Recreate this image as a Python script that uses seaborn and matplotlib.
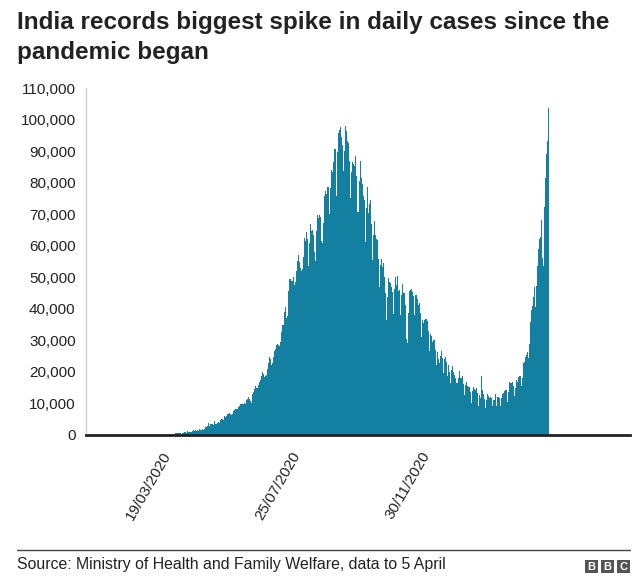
import matplotlib
matplotlib.use("Agg")
import matplotlib.pyplot as plt
from matplotlib.patches import Rectangle
from matplotlib.lines import Line2D
from matplotlib.ticker import FuncFormatter
import seaborn as sns
import pandas as pd

# ---- data: daily new cases (by report day), 31/01/2020 .. 05/04/2021 ----
jan_2020 = [1, 0]
feb_2020 = [0, 1, 1, 0, 0, 0, 0, 0, 0, 0, 0, 0, 0, 0, 0, 0, 0, 0, 0, 0,
            0, 0, 0, 0, 0, 0, 0, 0, 0]
mar_2020 = [0, 2, 1, 22, 2, 1, 3, 5, 9, 15, 8, 11, 9, 20, 11, 6, 23, 14, 38, 50,
            86, 66, 103, 37, 121, 70, 160, 100, 112, 227, 146]
apr_2020 = [601, 545, 624, 524, 597, 596, 473, 678, 512, 1035, 856, 758, 1243, 1031, 886,
            1061, 922, 1371, 1580, 1239, 1537, 1292, 1667, 1408, 1835, 1607, 1561, 1873, 1738, 1801]
may_2020 = [2396, 2564, 2952, 3656, 2971, 3602, 3344, 3339, 3175, 4311, 3592, 3562, 3726, 3991,
            3808, 4794, 5050, 4628, 6147, 5553, 6088, 6654, 6767, 6977, 6535, 6387, 6566, 7466,
            7964, 8380, 8392]
jun_2020 = [8171, 8909, 9304, 9851, 9887, 9971, 9983, 9987, 9985, 10956, 11458, 11929, 11502,
            10667, 10032, 12881, 13586, 14516, 15413, 14821, 14933, 15968, 16922, 17296, 18552,
            19906, 19459, 18522, 18653, 19148]
jul_2020 = [20903, 22771, 24850, 24248, 22252, 22752, 24879, 26506, 27114, 28637, 28701, 28498,
            28178, 29429, 32695, 34956, 34884, 38902, 40425, 37148, 37724, 45720, 49310, 48916,
            48661, 49931, 47704, 48513, 52123, 55079, 57118]
aug_2020 = [54735, 52972, 52050, 52509, 56282, 62538, 61537, 64399, 62064, 53601, 60963, 66999,
            64553, 65002, 63490, 57981, 55079, 64531, 69652, 68898, 69878, 69239, 61408, 60975,
            67151, 75760, 77266, 76472, 78761, 78512, 69921]
sep_2020 = [78357, 83883, 83341, 86432, 90632, 90802, 75809, 89706, 95735, 96551, 97570, 94372,
            92071, 83809, 90123, 97894, 96424, 93337, 92605, 86961, 75083, 83347, 86508, 86052,
            85362, 88600, 82170, 70589, 80472, 86821]
oct_2020 = [81484, 79476, 75829, 74442, 61267, 72049, 78524, 70496, 73272, 74383, 66732, 55342,
            63509, 67708, 63371, 62212, 61871, 55722, 46790, 54044, 55839, 53370, 54366, 50129,
            45148, 36469, 43893, 49881, 48648, 48268, 46963]
nov_2020 = [45231, 38310, 46253, 50210, 47638, 50357, 45674, 45903, 38074, 44281, 47905, 44879,
            44878, 41100, 30548, 29163, 38617, 45576, 45882, 46232, 45209, 44059, 37975, 44376,
            44489, 43082, 41322, 41810, 38772, 31118]
dec_2020 = [36604, 35551, 36595, 36652, 36011, 32981, 26567, 32080, 31521, 29398, 30006, 30254,
            27071, 22065, 26382, 24010, 22890, 25152, 26624, 24337, 19556, 23950, 24712, 23067,
            18732, 22272, 20021, 16432, 20550, 21822, 20035]
jan_2021 = [19078, 18177, 16504, 16375, 18088, 20346, 18139, 18222, 18645, 16311, 12584, 15968,
            16946, 15590, 15158, 15144, 13788, 10064, 13823, 15223, 14545, 14256, 14849, 13203,
            9102, 12689, 11666, 18855, 14339, 13083, 11427]
feb_2021 = [8635, 11039, 12899, 12408, 11713, 12059, 11831, 9110, 11067, 12923, 9309, 12143,
            12194, 11649, 9121, 11610, 12881, 13193, 13993, 14264, 14199, 10584, 13742, 16738,
            16577, 16488, 16752, 15510]
mar_2021 = [12286, 14989, 17407, 16838, 18327, 18711, 18599, 15388, 17921, 22854, 23285, 24882,
            25320, 26291, 24492, 28903, 35871, 39726, 40953, 43846, 46951, 40715, 47262, 53476,
            59118, 62258, 62714, 68020, 56211, 53480, 72330]
apr_2021 = [81466, 89129, 93249, 103558]

cases = (jan_2020 + feb_2020 + mar_2020 + apr_2020 + may_2020 + jun_2020 + jul_2020 +
         aug_2020 + sep_2020 + oct_2020 + nov_2020 + dec_2020 + jan_2021 + feb_2021 +
         mar_2021 + apr_2021)
dates = pd.date_range(end="2021-04-05", periods=len(cases), freq="D").strftime("%d/%m/%Y").tolist()

tick_labels = ["19/03/2020", "25/07/2020", "30/11/2020"]
y_ticks = [0, 10000, 20000, 30000, 40000, 50000, 60000, 70000, 80000, 90000, 100000, 110000]

title_line1 = "India records biggest spike in daily cases since the"
title_line2 = "pandemic began"
source_text = "Source: Ministry of Health and Family Welfare, data to 5 April"

df = pd.DataFrame({"date": dates, "cases": cases})

# ---- style ----
sns.set_theme(style="white")
plt.rcParams["font.family"] = ["Liberation Sans", "DejaVu Sans"]

W, H = 640, 577
fig = plt.figure(figsize=(W / 100, H / 100), dpi=100)
ax = fig.add_axes([86 / W, 1 - 435 / H, (630 - 86) / W, (435 - 88) / H])

BAR = "#1380a1"
sns.barplot(data=df, x="date", y="cases", order=dates, color=BAR, width=1.0,
            saturation=1, linewidth=0, ax=ax)
for p in ax.patches:
    p.set_antialiased(False)
    p.set_facecolor(BAR)

ax.set_xlim(-26, 510)
ax.set_ylim(0, 110000)
ax.set_xlabel("")
ax.set_ylabel("")

ax.set_yticks(y_ticks)
ax.yaxis.set_major_formatter(FuncFormatter(lambda v, p: f"{int(v):,}"))
ax.tick_params(axis="y", length=0, pad=7.5, labelsize=11, labelcolor="#222222")

tick_pos = [dates.index(t) for t in tick_labels]
ax.set_xticks(tick_pos)
ax.set_xticklabels(tick_labels, rotation=60, ha="right", rotation_mode="anchor",
                   fontsize=11, color="#222222")
ax.tick_params(axis="x", length=0, pad=10)

for s in ["top", "right"]:
    ax.spines[s].set_visible(False)
ax.spines["left"].set_color("#d0d0d0")
ax.spines["left"].set_linewidth(1)
ax.spines["bottom"].set_color("#222222")
ax.spines["bottom"].set_linewidth(2)
ax.grid(False)

# ---- title ----
fig.text(17 / W, 1 - 29 / H, title_line1, fontsize=17.5, fontweight="bold",
         color="#222222", va="baseline", ha="left")
fig.text(17 / W, 1 - 59 / H, title_line2, fontsize=17.5, fontweight="bold",
         color="#222222", va="baseline", ha="left")

# ---- footer ----
fig.add_artist(Line2D([17 / W, 630 / W], [1 - 550 / H, 1 - 550 / H],
                      color="#444444", linewidth=1, transform=fig.transFigure))
fig.text(17 / W, 1 - 569 / H, source_text, fontsize=11.4, color="#222222",
         va="baseline", ha="left")

for i, letter in enumerate("BBC"):
    x0 = 585 + i * 16
    fig.add_artist(Rectangle((x0 / W, 1 - 573 / H), 13 / W, 13 / H,
                             transform=fig.transFigure, color="#555555", lw=0))
    fig.text((x0 + 6.5) / W, 1 - 566.5 / H, letter, fontsize=8, fontweight="bold",
             color="white", ha="center", va="center")

fig.savefig("out.png", dpi=100)
